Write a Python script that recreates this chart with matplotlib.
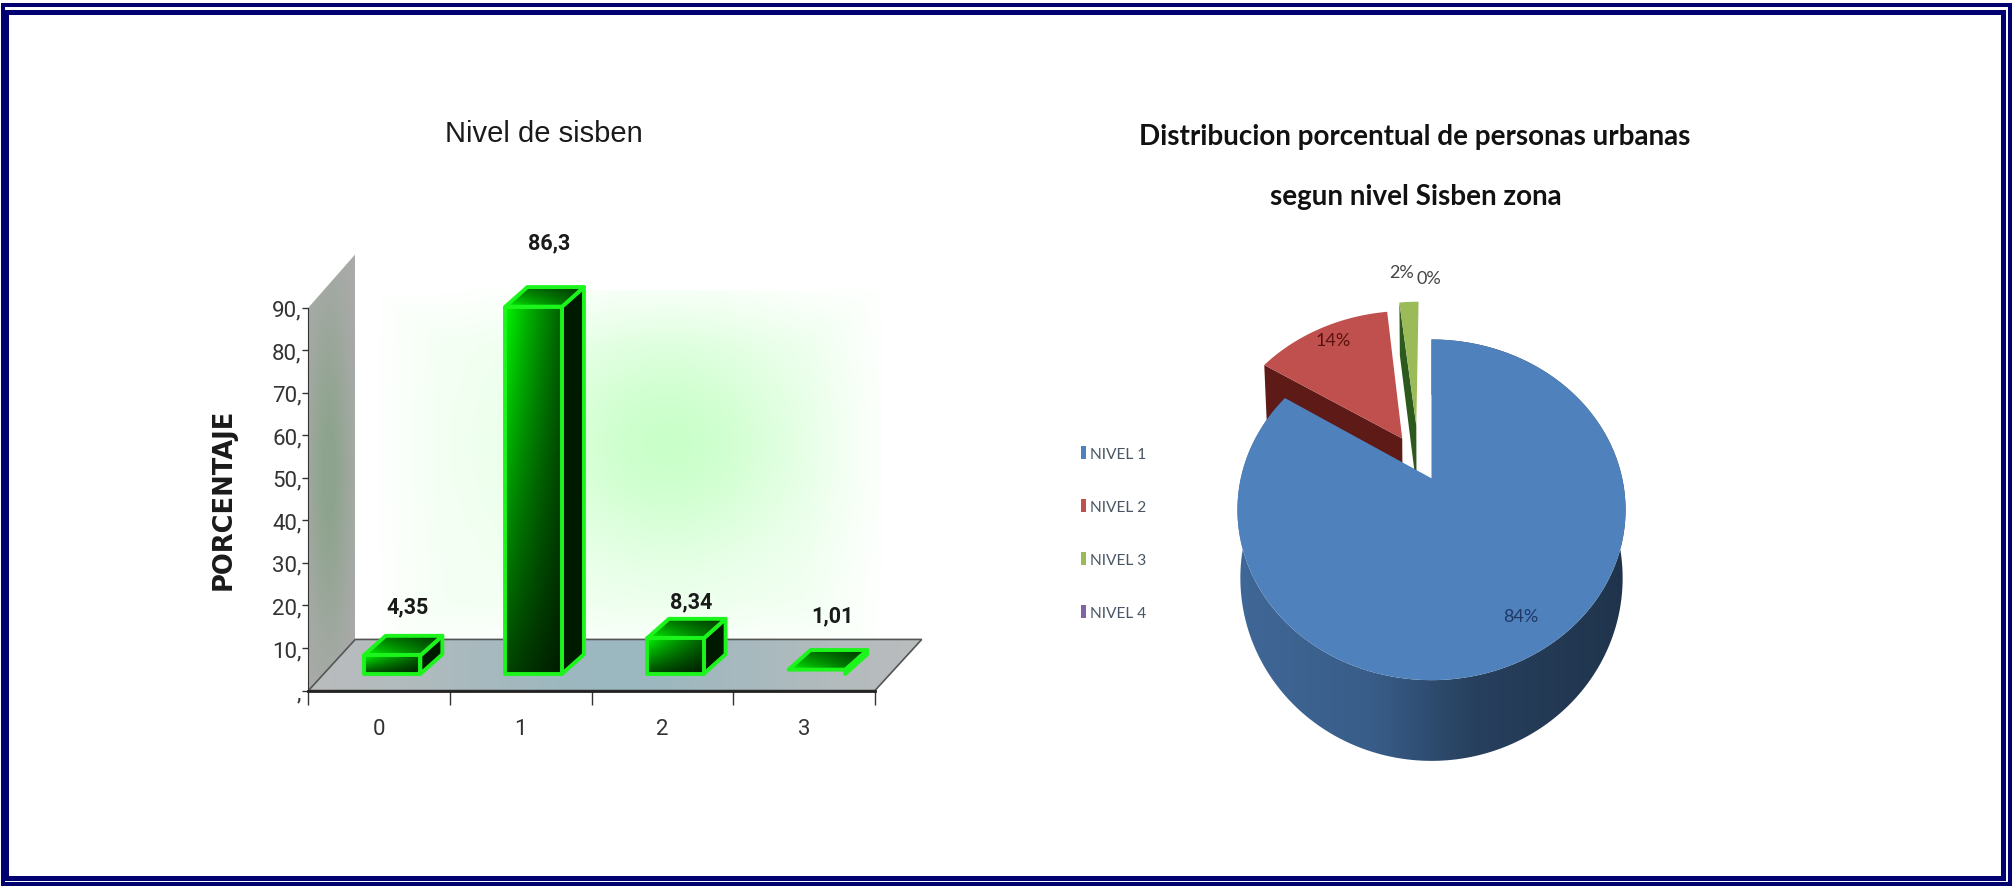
import numpy as np
import matplotlib
matplotlib.use('Agg')
import matplotlib.pyplot as plt
from matplotlib.patches import Polygon, Rectangle, Patch

W, H = 2015, 887

# ── data ──────────────────────────────────────────────────────────────────
bar_categories = ['0', '1', '2', '3']
bar_values = [4.35, 86.3, 8.34, 1.01]
bar_labels = ['4,35', '86,3', '8,34', '1,01']
y_ticks = [0, 10, 20, 30, 40, 50, 60, 70, 80, 90]
y_tick_labels = [',', '10,', '20,', '30,', '40,', '50,', '60,', '70,', '80,', '90,']

pie_names = ['NIVEL 1', 'NIVEL 2', 'NIVEL 3', 'NIVEL 4']
pie_values = [84, 14, 2, 0]

# ── layout (bar 3d look, in data units) ───────────────────────────────────
BAR_W = 0.40
BAR_SHIFT = 0.09
BAR_BASE = 3.9
BAR_DX, BAR_DY = 0.155, 4.6
FLOOR_DX, FLOOR_DY = 0.33, 12.0
LABEL_GAP = [11.5, 15.0, 8.8, 12.7]

# ── layout (pie perspective) ──────────────────────────────────────────────
PERSP = 0.185
DEPTH = 0.40
PIE_COLORS = ['#4f81bd', '#c0504d', '#9bbb59', '#8064a2']
PIE_EXPLODE = [0.0, 0.30, 0.35, 0.35]
EXPLODE_ANGLE = [None, None, 104, 104]
SIDE_COLORS = ['#3a5f8c', '#5e1a17', '#2c5a1c', '#4a3866']

plt.rcParams['font.family'] = ['Roboto', 'Liberation Sans', 'DejaVu Sans']

fig = plt.figure(figsize=(W / 100, H / 100), dpi=100, facecolor='white')


def px_axes(left, top, right, bottom, **kw):
    return fig.add_axes([left / W, 1 - bottom / H, (right - left) / W, (bottom - top) / H], **kw)


def fx(px):
    return px / W


def fy(py):
    return 1 - py / H


def fill_gradient(ax, pts, img, z):
    # image clipped to a polygon, keeps the current limits
    pts = np.asarray(pts)
    xl, yl = ax.get_xlim(), ax.get_ylim()
    im = ax.imshow(img, extent=[pts[:, 0].min(), pts[:, 0].max(), pts[:, 1].min(), pts[:, 1].max()],
                   origin='lower', aspect='auto', zorder=z, interpolation='bilinear')
    clip = Polygon(pts, closed=True, transform=ax.transData, facecolor='none', edgecolor='none', clip_on=False)
    ax.add_patch(clip)
    im.set_clip_path(clip)
    im.set_clip_box(fig.bbox)
    ax.set_xlim(xl)
    ax.set_ylim(yl)


def green_img(xv, yv):
    # xv, yv are 2d grids in 0..1, y up
    g = (1 - 0.62 * xv ** 0.8) * (0.28 + 0.72 * yv)
    return np.dstack([np.zeros_like(g), g, np.zeros_like(g)])


# ── outer frame ───────────────────────────────────────────────────────────
bg = fig.add_axes([0, 0, 1, 1])
bg.set_xlim(0, W)
bg.set_ylim(H, 0)
bg.axis('off')
bg.add_patch(Rectangle((3, 6), 2007, 879.5, fill=False, edgecolor='#000070', lw=2.9))
bg.add_patch(Rectangle((6, 12.5), 1997.5, 867, fill=False, edgecolor='#000070', lw=3.6))

# ── bar chart ─────────────────────────────────────────────────────────────
ax = px_axes(308.5, 308.5, 875, 691.5)
ax.set_xlim(-0.5, len(bar_values) - 0.5)
ax.set_ylim(0, 90)
ax.patch.set_alpha(0)
for s in ('top', 'right'):
    ax.spines[s].set_visible(False)
ax.spines['left'].set_color('#333333')
ax.spines['bottom'].set_color('#222222')
ax.spines['bottom'].set_linewidth(2)
ax.spines['left'].set_zorder(6)
ax.spines['bottom'].set_zorder(6)

# soft green glow on the back wall
gx, gy = np.meshgrid(np.linspace(0, 1, 200), np.linspace(0, 1, 200))
glow = np.exp(-((gx - 0.58) / 0.26) ** 2 - ((gy - 0.58) / 0.33) ** 2) * 0.17
glow = glow + 0.04 * np.clip(np.minimum.reduce([gx, 1 - gx, gy, 1 - gy]) / 0.15, 0, 1)
glow_img = np.dstack([1 - glow, np.ones_like(glow), 1 - glow])
fill_gradient(ax, [(-0.05, 8), (3.55, 8), (3.55, 94), (-0.05, 94)], glow_img, 1)

x0, x1 = ax.get_xlim()

# wall
wall = [(x0, 0), (x0 + FLOOR_DX, FLOOR_DY), (x0 + FLOOR_DX, 90 + FLOOR_DY + 0.5), (x0, 90)]
t = np.exp(-((gx - 0.45) / 0.45) ** 2 - ((gy - 0.5) / 0.38) ** 2)
wall_img = np.dstack([0.67 - 0.12 * t, 0.67 - 0.03 * t, 0.67 - 0.12 * t])
fill_gradient(ax, wall, wall_img, 2)

# floor
floor = [(x0, 0), (x1, 0), (x1 + FLOOR_DX, FLOOR_DY), (x0 + FLOOR_DX, FLOOR_DY)]
t = np.exp(-((gx - 0.5) / 0.33) ** 2)
floor_img = np.dstack([0.74 - 0.13 * t, 0.74 - 0.02 * t, 0.74 + 0.01 * t])
fill_gradient(ax, floor, floor_img, 2)
ax.add_patch(Polygon(floor, closed=True, fill=False, edgecolor='#555555', lw=1.2, zorder=3, clip_on=False))

# bars
EDGE = '#1cf51c'
for i, v in enumerate(bar_values):
    l = i + BAR_SHIFT - BAR_W / 2
    r = l + BAR_W
    b = BAR_BASE
    h = b + v
    side = [(r, b), (r + BAR_DX, b + BAR_DY), (r + BAR_DX, h + BAR_DY), (r, h)]
    top = [(l, h), (r, h), (r + BAR_DX, h + BAR_DY), (l + BAR_DX, h + BAR_DY)]
    front = [(l, b), (r, b), (r, h), (l, h)]
    ax.add_patch(Polygon(side, closed=True, facecolor='#001a00', edgecolor=EDGE, lw=2.8, zorder=4,
                         joinstyle='round', clip_on=False))
    top_img = green_img(gx, 0.35 + 0.65 * (1 - gy))
    fill_gradient(ax, top, top_img, 4.1)
    ax.add_patch(Polygon(top, closed=True, fill=False, edgecolor=EDGE, lw=2.8, zorder=4.2,
                         joinstyle='round', clip_on=False))
    if v > 2:
        fill_gradient(ax, front, green_img(gx, gy), 4.3)
        ax.add_patch(Polygon(front, closed=True, fill=False, edgecolor=EDGE, lw=2.8, zorder=4.4,
                             joinstyle='round', clip_on=False))
    ax.text(i + BAR_SHIFT + 0.11, h + LABEL_GAP[i], bar_labels[i], ha='center', va='center',
            fontsize=15.5, fontweight='bold', color='#1a1a1a', zorder=7)

ax.set_yticks(y_ticks)
ax.set_yticklabels(y_tick_labels, fontsize=16, color='#333333')
ax.tick_params(axis='y', length=4, width=1, color='#333333', pad=1)
edges = np.arange(x0, x1 + 0.5)
ax.set_xticks(edges)
ax.set_xticklabels([])
ax.tick_params(axis='x', which='major', length=10, width=1, color='#333333')
ax.set_xticks(np.arange(len(bar_categories)), minor=True)
ax.set_xticklabels(bar_categories, minor=True, fontsize=16, color='#333333')
ax.tick_params(axis='x', which='minor', length=0, pad=20)

fig.text(fx(224), fy(499), 'PORCENTAJE', rotation=90, ha='center', va='center',
         family=['DejaVu Sans'], fontsize=18.5, fontweight='bold', color='#1a1a1a')
fig.text(fx(544), fy(134), 'Nivel de sisben', ha='center', va='center',
         family=['Liberation Sans'], fontsize=21, color='#1a1a1a')

# ── 3d pie ────────────────────────────────────────────────────────────────
UX, UY = 190.7, 164.5
CX, CY = 1431.5, 479.3
pax = px_axes(CX - 1.5 * UX, CY - 1.5 * UY, CX + 1.5 * UX, CY + 1.9 * UY)
pax.set_xlim(-1.5, 1.5)
pax.set_ylim(-1.9, 1.5)
pax.axis('off')


def project(u, v):
    w = 1 + PERSP * v
    return u / w, v / w, w


def bottom_of(X, Y, w):
    return X * 0.985, Y - DEPTH / w


total = sum(pie_values)
angles = [90.0]
for v in pie_values:
    angles.append(angles[-1] - 360.0 * v / total)

# red and green first, blue on top of them
for i in [1, 2, 3, 0]:
    a0, a1 = angles[i], angles[i + 1]
    if a0 == a1:
        continue
    mid = EXPLODE_ANGLE[i] if EXPLODE_ANGLE[i] is not None else (a0 + a1) / 2
    ox = PIE_EXPLODE[i] * np.cos(np.radians(mid))
    oy = PIE_EXPLODE[i] * np.sin(np.radians(mid))
    th = np.radians(np.linspace(a0, a1, 300))
    X, Y, w = project(np.cos(th) + ox, np.sin(th) + oy)
    AX, AY, aw = project(ox, oy)

    if i == 0:
        # outer wall with the left to right shading
        BX, BY = bottom_of(X, Y, w)
        wall_pts = np.vstack([np.column_stack([X, Y]), np.column_stack([BX, BY])[::-1]])
        sx = np.linspace(0, 1, 300)
        shade = np.interp(sx, [0, 0.35, 0.6, 1], [0.80, 0.72, 0.50, 0.40])
        base = np.array(matplotlib.colors.to_rgb(PIE_COLORS[0]))
        img = np.outer(shade, base).reshape(1, 300, 3)
        fill_gradient(pax, wall_pts, img, 1.5)
    else:
        # cut face on the left edge of the slice, from the apex to the arc
        BX, BY = bottom_of(X[0], Y[0], w[0])
        CBX, CBY = bottom_of(AX, AY, aw)
        pax.add_patch(Polygon([(AX, AY), (X[0], Y[0]), (BX, BY), (CBX, CBY)], closed=True,
                              facecolor=SIDE_COLORS[i], edgecolor='none', zorder=1 + i * 0.1))
    top_pts = np.vstack([[(AX, AY)], np.column_stack([X, Y])])
    pax.add_patch(Polygon(top_pts, closed=True, facecolor=PIE_COLORS[i], edgecolor='none',
                          zorder=2 if i == 0 else 1.3 + i * 0.1))

# pie percent labels
pie_text = [f'{v}%' for v in pie_values]
pie_label_xy = [(1521, 617), (1333, 341), (1402, 273), (1429, 279)]
pie_label_col = ['#1f3864', '#5a1210', '#444444', '#444444']
for s, (px, py), c in zip(pie_text, pie_label_xy, pie_label_col):
    fig.text(fx(px), fy(py), s, ha='center', va='center', family=['Lato'], fontsize=13, color=c)

# legend
handles = [Patch(facecolor=c, edgecolor='none') for c in PIE_COLORS]
fig.legend(handles, pie_names, loc='upper left', bbox_to_anchor=(fx(1081), fy(447)),
           frameon=False, prop={'family': 'Lato', 'size': 11.2}, labelcolor='#4a5664', labelspacing=2.45,
           handlelength=0.3, handleheight=0.9, handletextpad=0.25, borderpad=0, borderaxespad=0)

# titles
fig.text(fx(1415), fy(137), 'Distribucion porcentual de personas urbanas', ha='center', va='center',
         family=['Lato'], fontsize=20, fontweight='bold', color='#111111')
fig.text(fx(1416), fy(197), 'segun nivel Sisben zona', ha='center', va='center',
         family=['Lato'], fontsize=20, fontweight='bold', color='#111111')

fig.savefig('out.png', dpi=100, facecolor='white')
